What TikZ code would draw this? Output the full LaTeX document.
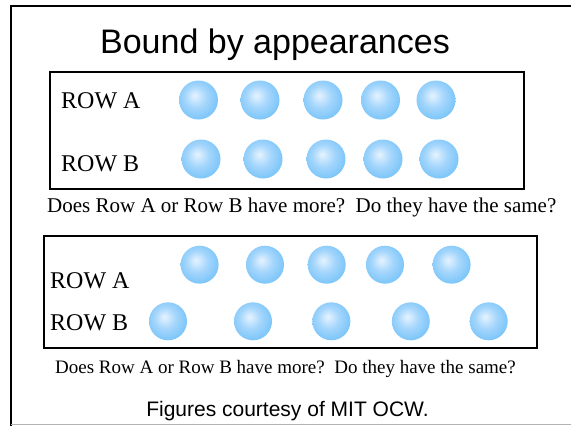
\documentclass[tikz,border=0pt]{standalone}
\usepackage{fontspec}
\setmainfont{Liberation Serif}
\setsansfont{Liberation Sans}
\definecolor{bubbleLight}{RGB}{230,243,255}
\definecolor{bubbleMid}{RGB}{165,214,252}
\definecolor{bubbleDark}{RGB}{80,180,246}
\pgfdeclareradialshading{bubbleshade}{\pgfpoint{-5bp}{6bp}}{color(0bp)=(bubbleLight); color(14bp)=(bubbleMid); color(42bp)=(bubbleDark); color(50bp)=(bubbleDark)}
\tikzset{
  bubble/.style={shape=circle,minimum size=39pt,inner sep=0pt,shade,shading=bubbleshade},
  rowlabel/.style={anchor=base west,inner sep=0pt,font=\fontsize{24}{24}\selectfont},
  question/.style={anchor=base west,inner sep=0pt},
  frame/.style={line width=2pt}
}

\begin{document}
\begin{tikzpicture}[x=1pt,y=-1pt]
  \useasboundingbox (0,0) rectangle (571,426);
  % slide frame
  \draw[frame] (11,427) -- (11,6) -- (572,6);
  \draw[gray!60] (11,424.5) -- (571,424.5);

  \node (title) at (275,53) [anchor=base,inner sep=0pt,font=\sffamily\fontsize{34}{34}\selectfont] {Bound by appearances};

  % first picture
  \draw[frame] (50,72) rectangle (524,189);
  \node[rowlabel] (labA1) at (61,108) {ROW A};
  \node[rowlabel] (labB1) at (61,171) {ROW B};
\foreach \x [count=\i] in {198.5,260,323,380.5,436}
  \node[bubble] (a\i) at (\x,100) {};
\foreach \x [count=\i] in {201,263,326,383,439}
  \node[bubble] (b\i) at (\x,159) {};
  \node[question,font=\fontsize{21}{21}\selectfont] (ask1) at (47,212) {Does Row A or Row B have more?\ \ Do they have the same?};

  % second picture
  \draw[frame] (44,236) rectangle (537,348);
  \node[rowlabel] (labA2) at (50,288) {ROW A};
  \node[rowlabel] (labB2) at (50,330) {ROW B};
\foreach \x [count=\i] in {199.6,265,326.7,385,451.6}
  \node[bubble,minimum size=38pt] (c\i) at (\x,264.7) {};
\foreach \x [count=\i] in {168,253,331.4,410.8,488.7}
  \node[bubble,minimum size=38pt] (d\i) at (\x,321.3) {};
  \node[question,font=\fontsize{19}{19}\selectfont] (ask2) at (55,373) {Does Row A or Row B have more?\ \ Do they have the same?};

  \node (credit) at (287.5,416) [anchor=base,inner sep=0pt,font=\sffamily\fontsize{21}{21}\selectfont] {Figures courtesy of MIT OCW.};
\end{tikzpicture}
\end{document}
